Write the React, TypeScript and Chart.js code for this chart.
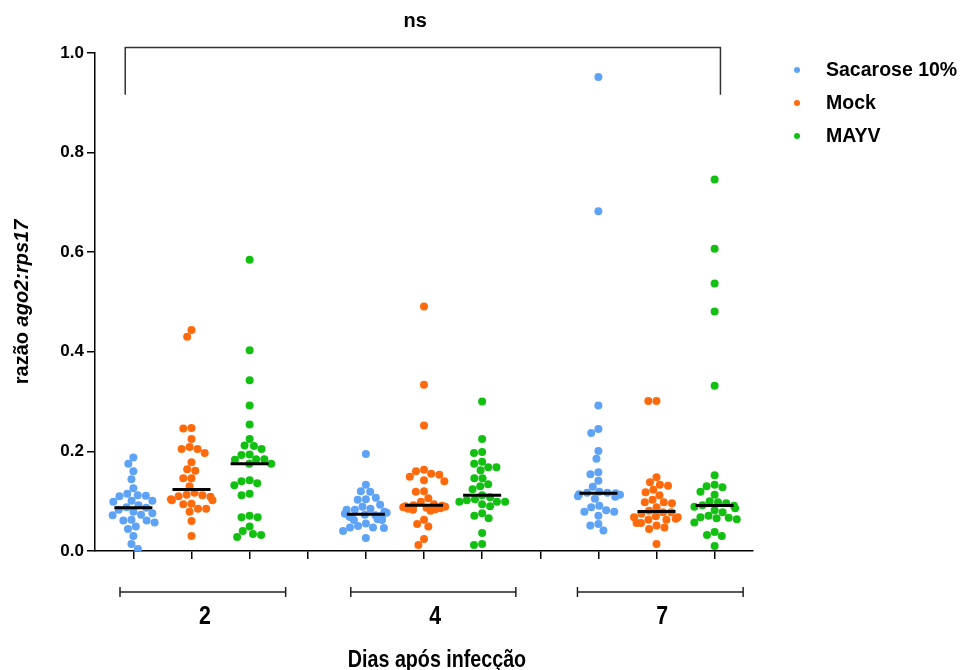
import { useEffect, useRef } from "react";
import { Chart, registerables } from "chart.js";

Chart.register(...registerables);

// Days after infection (group labels) and treatments (series)
const days = ["2", "4", "7"];
const treatments = ["Sacarose 10%", "Mock", "MAYV"];
const colors = ["#5ea3f5", "#ff6a0d", "#12c012"];

// ago2:rps17 ratio per mosquito, by day and treatment
const sacarose2 = [0.188, 0.175, 0.16, 0.144, 0.126, 0.115, 0.112, 0.111, 0.11, 0.101, 0.101, 0.099, 0.092, 0.088, 0.087, 0.083, 0.079, 0.076, 0.073, 0.072, 0.063, 0.061, 0.061, 0.057, 0.049, 0.044, 0.03, 0.014, 0.004];
const mock2 = [0.444, 0.43, 0.247, 0.246, 0.225, 0.209, 0.205, 0.205, 0.197, 0.178, 0.164, 0.161, 0.146, 0.146, 0.13, 0.117, 0.113, 0.112, 0.11, 0.109, 0.104, 0.102, 0.102, 0.095, 0.094, 0.085, 0.085, 0.079, 0.06, 0.03];
const mayv2 = [0.585, 0.403, 0.343, 0.292, 0.254, 0.225, 0.212, 0.211, 0.205, 0.194, 0.193, 0.184, 0.184, 0.183, 0.175, 0.175, 0.142, 0.14, 0.136, 0.132, 0.115, 0.112, 0.071, 0.068, 0.068, 0.049, 0.04, 0.034, 0.032, 0.028];

const sacarose4 = [0.195, 0.133, 0.12, 0.119, 0.107, 0.104, 0.103, 0.093, 0.089, 0.085, 0.083, 0.083, 0.079, 0.077, 0.075, 0.073, 0.072, 0.071, 0.069, 0.068, 0.064, 0.062, 0.062, 0.055, 0.05, 0.047, 0.047, 0.046, 0.04, 0.026];
const mock4 = [0.491, 0.334, 0.252, 0.163, 0.16, 0.155, 0.153, 0.149, 0.142, 0.14, 0.12, 0.119, 0.106, 0.099, 0.094, 0.092, 0.091, 0.09, 0.089, 0.088, 0.087, 0.086, 0.085, 0.084, 0.083, 0.081, 0.063, 0.054, 0.049, 0.024, 0.012];
const mayv4 = [0.3, 0.225, 0.199, 0.197, 0.179, 0.175, 0.168, 0.168, 0.162, 0.146, 0.146, 0.134, 0.13, 0.124, 0.112, 0.108, 0.104, 0.102, 0.099, 0.099, 0.099, 0.094, 0.09, 0.076, 0.071, 0.066, 0.036, 0.014, 0.012];

const sacarose7 = [0.952, 0.682, 0.292, 0.245, 0.237, 0.201, 0.185, 0.158, 0.154, 0.141, 0.129, 0.119, 0.117, 0.117, 0.116, 0.114, 0.113, 0.11, 0.109, 0.105, 0.091, 0.088, 0.082, 0.079, 0.079, 0.071, 0.054, 0.051, 0.041];
const mock7 = [0.301, 0.301, 0.148, 0.138, 0.133, 0.131, 0.123, 0.118, 0.112, 0.103, 0.098, 0.098, 0.096, 0.088, 0.081, 0.078, 0.078, 0.075, 0.07, 0.068, 0.068, 0.065, 0.063, 0.063, 0.056, 0.056, 0.051, 0.047, 0.044, 0.014];
const mayv7 = [0.746, 0.607, 0.537, 0.481, 0.332, 0.152, 0.133, 0.13, 0.128, 0.119, 0.113, 0.1, 0.098, 0.096, 0.092, 0.091, 0.089, 0.086, 0.082, 0.078, 0.071, 0.068, 0.067, 0.066, 0.064, 0.057, 0.038, 0.032, 0.03, 0.01];

// series[treatment][day]
const series = [
  [sacarose2, sacarose4, sacarose7],
  [mock2, mock4, mock7],
  [mayv2, mayv4, mayv7],
];

// Y axis ticks
const yTicks = [0, 0.2, 0.4, 0.6, 0.8, 1.0];

// Column slot of each point: 4 slots per day (3 treatments + a gap)
const slotOf = (day: number, t: number) => day * 4 + t;
const xTickSlots = Array.from({ length: 11 }, (_, i) => i);

// Day brackets under the axis, in slot units
const daySpans = [
  [-0.23, 2.62],
  [3.74, 6.58],
  [7.64, 10.49],
];
// Overall comparison bracket
const nsSpan = [-0.14, 10.1];
const nsTop = 1.011;
const nsLeg = 0.916;
const nsLabel = "ns";
const nsLabelSlot = 4.85;

const xTitle = "Dias após infecção";

const FONT = "'Liberation Sans', Arial, Helvetica, sans-serif";
const DOT_R = 4;
const DOT_GAP = 8.2;
const MAX_HALF = 23;

function median(values: number[]) {
  const s = [...values].sort((a, b) => a - b);
  const n = s.length;
  return n % 2 ? s[(n - 1) / 2] : (s[n / 2 - 1] + s[n / 2]) / 2;
}

// Closest horizontal offset to the column centre that doesn't collide with placed dots
function findOffset(y: number, placed: { x: number; y: number }[], d: number) {
  const intervals: [number, number][] = [];
  for (const p of placed) {
    const dy = Math.abs(p.y - y);
    if (dy < d) {
      const w = Math.sqrt(d * d - dy * dy);
      intervals.push([p.x - w, p.x + w]);
    }
  }
  const candidates = [0];
  intervals.forEach(([a, b]) => candidates.push(a, b));
  candidates.sort((a, b) => Math.abs(a) - Math.abs(b) || a - b);
  for (const c of candidates) {
    if (!intervals.some(([a, b]) => c > a + 1e-6 && c < b - 1e-6)) return c;
  }
  return 0;
}

const beeswarm = {
  id: "beeswarm",
  afterDatasetsUpdate(chart: any) {
    const xs = chart.scales.x;
    chart.data.datasets.forEach((ds: any, di: number) => {
      const meta = chart.getDatasetMeta(di);
      const groupsMap = new Map<number, any[]>();
      meta.data.forEach((el: any, i: number) => {
        const gx = ds.data[i].x;
        if (!groupsMap.has(gx)) groupsMap.set(gx, []);
        groupsMap.get(gx)!.push(el);
      });
      groupsMap.forEach((els, gx) => {
        const cx = xs.getPixelForValue(gx);
        const order = [...els].sort((a, b) => a.y - b.y);
        const placed: { x: number; y: number; el: any }[] = [];
        order.forEach((el) => {
          placed.push({ x: findOffset(el.y, placed, DOT_GAP), y: el.y, el });
        });
        placed.forEach((p) => {
          // dots that would reach too far out are pulled back inside the column
          const ax = Math.abs(p.x);
          const x = ax > MAX_HALF ? Math.sign(p.x) * (MAX_HALF - (ax - MAX_HALF) * 0.6) : p.x;
          p.el.x = cx + x;
        });
      });
    });
  },
};

const medianLines = {
  id: "medianLines",
  afterDatasetsDraw(chart: any) {
    const { ctx } = chart;
    const xs = chart.scales.x;
    const ys = chart.scales.y;
    ctx.save();
    ctx.strokeStyle = "#000";
    ctx.lineWidth = 3;
    series.forEach((byDay, t) => {
      byDay.forEach((vals, d) => {
        const cx = xs.getPixelForValue(slotOf(d, t));
        const py = ys.getPixelForValue(median(vals));
        ctx.beginPath();
        ctx.moveTo(cx - 19, py);
        ctx.lineTo(cx + 19, py);
        ctx.stroke();
      });
    });
    ctx.restore();
  },
};

function narrowText(ctx: CanvasRenderingContext2D, text: string, cx: number, cy: number, size: number) {
  ctx.save();
  ctx.translate(cx, cy);
  ctx.scale(0.82, 1);
  ctx.font = `bold ${size}px ${FONT}`;
  ctx.textAlign = "center";
  ctx.textBaseline = "middle";
  ctx.fillText(text, 0, 0);
  ctx.restore();
}

const decorations = {
  id: "decorations",
  afterDraw(chart: any) {
    const { ctx, chartArea } = chart;
    const xs = chart.scales.x;
    const ys = chart.scales.y;
    ctx.save();

    // significance bracket
    const bx0 = xs.getPixelForValue(nsSpan[0]);
    const bx1 = xs.getPixelForValue(nsSpan[1]);
    const byTop = ys.getPixelForValue(nsTop);
    const byLeg = ys.getPixelForValue(nsLeg);
    ctx.strokeStyle = "#333";
    ctx.lineWidth = 1.5;
    ctx.beginPath();
    ctx.moveTo(bx0, byLeg);
    ctx.lineTo(bx0, byTop);
    ctx.lineTo(bx1, byTop);
    ctx.lineTo(bx1, byLeg);
    ctx.stroke();
    ctx.fillStyle = "#000";
    ctx.font = `bold 20px ${FONT}`;
    ctx.textAlign = "center";
    ctx.textBaseline = "middle";
    ctx.fillText(nsLabel, xs.getPixelForValue(nsLabelSlot), byTop - 26);

    // legend
    treatments.forEach((name, i) => {
      const ly = chartArea.top + 17 + i * 33;
      ctx.fillStyle = colors[i];
      ctx.beginPath();
      ctx.arc(chartArea.right + 44, ly, 3, 0, Math.PI * 2);
      ctx.fill();
      ctx.fillStyle = "#000";
      ctx.font = `bold 19.5px ${FONT}`;
      ctx.textAlign = "left";
      ctx.textBaseline = "middle";
      ctx.fillText(name, chartArea.right + 73, ly + 1);
    });

    // y axis title with italic gene names
    ctx.save();
    ctx.translate(22, (chartArea.top + chartArea.bottom) / 2);
    ctx.rotate(-Math.PI / 2);
    const part1 = "razão ";
    const part2 = "ago2:rps17";
    ctx.font = `bold 20px ${FONT}`;
    const w1 = ctx.measureText(part1).width;
    ctx.font = `italic bold 20px ${FONT}`;
    const w2 = ctx.measureText(part2).width;
    const sx = -(w1 + w2) / 2;
    ctx.fillStyle = "#000";
    ctx.textAlign = "left";
    ctx.textBaseline = "middle";
    ctx.font = `bold 20px ${FONT}`;
    ctx.fillText(part1, sx, 0);
    ctx.font = `italic bold 20px ${FONT}`;
    ctx.fillText(part2, sx + w1, 0);
    ctx.restore();

    // day brackets and labels
    const byB = chartArea.bottom + 41;
    ctx.strokeStyle = "#222";
    ctx.lineWidth = 1.5;
    ctx.fillStyle = "#000";
    daySpans.forEach(([a, b], i) => {
      const xa = xs.getPixelForValue(a);
      const xb = xs.getPixelForValue(b);
      ctx.beginPath();
      ctx.moveTo(xa, byB);
      ctx.lineTo(xb, byB);
      ctx.moveTo(xa, byB - 5);
      ctx.lineTo(xa, byB + 5);
      ctx.moveTo(xb, byB - 5);
      ctx.lineTo(xb, byB + 5);
      ctx.stroke();
      narrowText(ctx, days[i], (xa + xb) / 2 + 2, chartArea.bottom + 66, 26);
    });

    // x axis title
    narrowText(ctx, xTitle, (chartArea.left + chartArea.right) / 2 + 13, chartArea.bottom + 109, 24);

    ctx.restore();
  },
};

export default function App() {
  const canvasRef = useRef<HTMLCanvasElement | null>(null);

  useEffect(() => {
    document.body.style.margin = "0";
    const canvas = canvasRef.current;
    if (!canvas) return;

    const datasets = treatments.map((name, t) => ({
      label: name,
      data: series[t].flatMap((vals, d) => vals.map((v) => ({ x: slotOf(d, t), y: v }))),
      backgroundColor: colors[t],
      borderWidth: 0,
      pointRadius: DOT_R,
      pointHoverRadius: DOT_R,
    }));

    const chart = new Chart(canvas, {
      type: "scatter",
      data: { datasets },
      plugins: [beeswarm, medianLines, decorations],
      options: {
        animation: false,
        responsive: false,
        events: [],
        layout: { padding: { top: 53, right: 210, left: 0, bottom: 0 } },
        plugins: { legend: { display: false }, tooltip: { enabled: false } },
        scales: {
          x: {
            type: "linear",
            min: -0.66,
            max: 10.66,
            afterBuildTicks: (axis: any) => {
              axis.ticks = xTickSlots.map((v) => ({ value: v }));
            },
            afterFit: (axis: any) => {
              axis.height = 119;
            },
            ticks: { callback: () => "", autoSkip: false },
            grid: { drawOnChartArea: false, drawTicks: true, tickLength: 8, color: "#000", lineWidth: 1.5 },
            border: { display: true, color: "#000", width: 1.5 },
          },
          y: {
            type: "linear",
            min: 0,
            max: 1,
            afterBuildTicks: (axis: any) => {
              axis.ticks = yTicks.map((v) => ({ value: v }));
            },
            afterFit: (axis: any) => {
              axis.width = 95;
            },
            ticks: {
              callback: (v: any) => Number(v).toFixed(1),
              color: "#000",
              padding: 3,
              font: { family: FONT, size: 17, weight: "bold" },
            },
            grid: { drawOnChartArea: false, drawTicks: true, tickLength: 8, color: "#000", lineWidth: 1.5 },
            border: { display: true, color: "#000", width: 1.5 },
          },
        },
      } as any,
    });

    return () => chart.destroy();
  }, []);

  return (
    <div style={{ width: 963, height: 670 }}>
      <canvas ref={canvasRef} width={963} height={670} style={{ display: "block" }} />
    </div>
  );
}
